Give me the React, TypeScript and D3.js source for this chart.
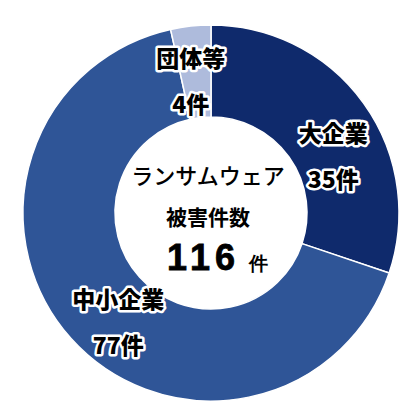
import { useEffect, useRef } from "react";
import * as d3 from "d3";

const categories = ["大企業", "中小企業", "団体等"];
const counts = [35, 77, 4];
const colors = ["#0f2a6c", "#2f5597", "#aebbdc"];
const centerTitle = ["ランサムウェア", "被害件数"];
const unit = "件";

const WIDTH = 418;
const HEIGHT = 418;
const CX = 211;
const CY = 213;
const OUTER = 188;
const INNER = 96;
// nudges so the labels sit where the original places them
const LABEL_SHIFT = [
  [7, 25],
  [13, 13],
  [-5, 8],
];

const FONT = "'Noto Sans CJK JP', 'Noto Sans', sans-serif";

export default function App() {
  const svgRef = useRef<SVGSVGElement>(null);

  useEffect(() => {
    const svg = d3.select(svgRef.current);
    svg.selectAll("*").remove();

    const rows = categories.map((name, i) => ({ name, value: counts[i], color: colors[i] }));
    const total = d3.sum(counts);

    const pie = d3
      .pie<{ name: string; value: number; color: string }>()
      .sort(null)
      .value((d) => d.value);
    const arc = d3
      .arc<d3.PieArcDatum<{ name: string; value: number; color: string }>>()
      .innerRadius(INNER)
      .outerRadius(OUTER);

    const g = svg.append("g").attr("transform", `translate(${CX},${CY})`);

    const slices = pie(rows);

    g.selectAll("path.slice")
      .data(slices)
      .join("path")
      .attr("class", "slice")
      .attr("d", arc)
      .attr("fill", (d) => d.data.color)
      .attr("stroke", "#fff")
      .attr("stroke-width", 1.5);

    // slice labels: name on top, count below, black with white halo
    slices.forEach((s, i) => {
      const [x, y] = arc.centroid(s);
      const lx = x + LABEL_SHIFT[i][0];
      const ly = y + LABEL_SHIFT[i][1];
      const lines = [s.data.name, `${s.data.value}${unit}`];
      lines.forEach((t, j) => {
        g.append("text")
          .attr("x", lx)
          .attr("y", ly + (j === 0 ? -23 : 23))
          .attr("text-anchor", "middle")
          .attr("dominant-baseline", "central")
          .attr("font-family", FONT)
          .attr("font-weight", 900)
          .attr("font-size", 23)
          .attr("fill", "#000")
          .attr("stroke", "#fff")
          .attr("stroke-width", 5)
          .attr("stroke-linejoin", "round")
          .attr("paint-order", "stroke")
          .text(t);
      });
    });

    // centre text
    g.append("text")
      .attr("x", -3)
      .attr("y", -39)
      .attr("text-anchor", "middle")
      .attr("dominant-baseline", "central")
      .attr("font-family", FONT)
      .attr("font-weight", 500)
      .attr("font-size", 22)
      .attr("fill", "#000")
      .text(centerTitle[0]);

    g.append("text")
      .attr("x", -3)
      .attr("y", 3)
      .attr("text-anchor", "middle")
      .attr("dominant-baseline", "central")
      .attr("font-family", FONT)
      .attr("font-weight", 700)
      .attr("font-size", 21)
      .attr("fill", "#000")
      .text(centerTitle[1]);

    const totalText = g
      .append("text")
      .attr("x", -44)
      .attr("y", 57)
      .attr("text-anchor", "start")
      .attr("fill", "#000");
    totalText
      .append("tspan")
      .attr("font-family", "'Liberation Sans', Arial, sans-serif")
      .attr("font-weight", 700)
      .attr("font-size", 36)
      .attr("letter-spacing", 5)
      .attr("stroke", "#000")
      .attr("stroke-width", 0.8)
      .text(String(total));
    totalText
      .append("tspan")
      .attr("dx", 9)
      .attr("font-family", "'Liberation Sans', Arial, sans-serif")
      .attr("font-weight", 700)
      .attr("font-size", 19)
      .text(unit);
  }, []);

  return (
    <div style={{ position: "fixed", left: 0, top: 0, width: WIDTH, height: HEIGHT, background: "#fff" }}>
      <svg ref={svgRef} width={WIDTH} height={HEIGHT} />
    </div>
  );
}
